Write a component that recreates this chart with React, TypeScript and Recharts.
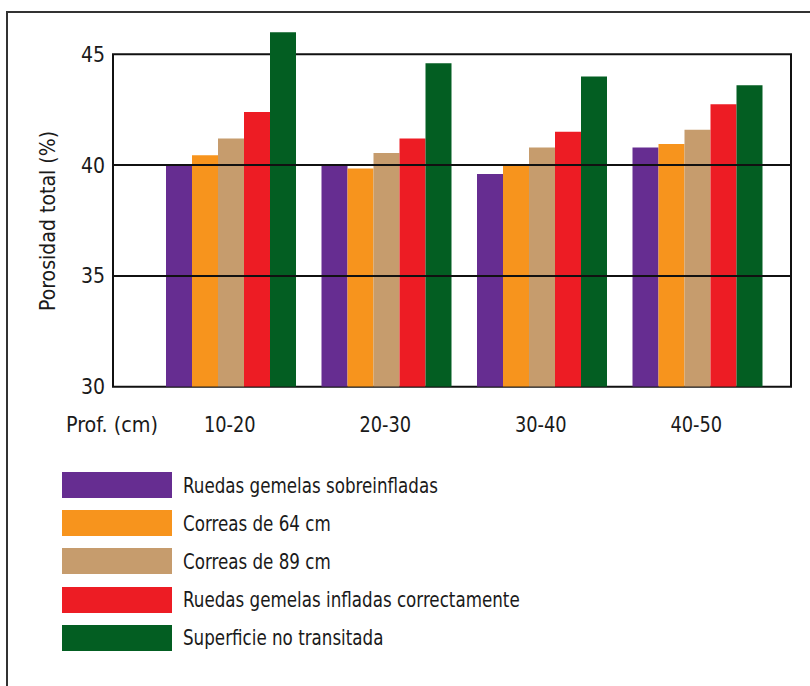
import { BarChart, Bar, XAxis, YAxis, ReferenceLine, ReferenceArea } from 'recharts';

const depths = ['10-20', '20-30', '30-40', '40-50'];
const sobreinfladas = [40.0, 40.0, 39.6, 40.8];
const correas64 = [40.45, 39.85, 40.0, 40.95];
const correas89 = [41.2, 40.55, 40.8, 41.6];
const correctamente = [42.4, 41.2, 41.5, 42.75];
const noTransitada = [46.0, 44.6, 44.0, 43.6];
const yTicks = [30, 35, 40, 45];

const series = [
  { key: 'a', name: 'Ruedas gemelas sobreinfladas', color: '#662D91', values: sobreinfladas },
  { key: 'b', name: 'Correas de 64 cm', color: '#F7941D', values: correas64 },
  { key: 'c', name: 'Correas de 89 cm', color: '#C69C6D', values: correas89 },
  { key: 'd', name: 'Ruedas gemelas infladas correctamente', color: '#ED1C24', values: correctamente },
  { key: 'e', name: 'Superficie no transitada', color: '#035E22', values: noTransitada },
];

const data = depths.map((d, i) => {
  const row: Record<string, string | number> = { depth: d };
  series.forEach(s => { row[s.key] = s.values[i]; });
  return row;
});

const FONT = '"DejaVu Sans Condensed", "DejaVu Sans", sans-serif';
const INK = '#1a1a1a';
const SQUEEZE = 0.845;

const YLabel = ({ viewBox }: any) => {
  const cx = 48;
  const cy = viewBox.y + viewBox.height * 0.56;
  return (
    <text x={cx} y={cy} transform={`rotate(-90 ${cx} ${cy})`} textAnchor="middle" dominantBaseline="central"
      fontFamily={FONT} fontSize={21} fill={INK} textLength={180} lengthAdjust="spacingAndGlyphs">
      Porosidad total (%)
    </text>
  );
};

const DepthTick = ({ x, y, payload }: any) => (
  <g transform={`translate(${x},${y})`}>
    <text transform={`scale(0.9,1)`} textAnchor="middle" dy="0.71em" fontFamily={FONT} fontSize={22} fill={INK}>
      {payload.value}
    </text>
  </g>
);

const Squeezed = ({ children, size, k = SQUEEZE }: { children: string; size: number; k?: number }) => (
  <span style={{ display: 'inline-block', fontSize: size, color: INK, transform: `scaleX(${k})`, transformOrigin: 'left center', whiteSpace: 'nowrap' }}>
    {children}
  </span>
);

export default function App() {
  return (
    <div style={{ position: 'absolute', left: 0, top: 0, width: 810, height: 686, overflow: 'hidden', background: '#fff', fontFamily: FONT }}>
      <div style={{ position: 'absolute', left: 6, top: 11, width: 830, height: 700, border: '2px solid #333' }} />
      <div style={{ position: 'absolute', left: 0, top: 0 }}>
        <BarChart width={810} height={440} data={data} margin={{ top: 10, right: 19, bottom: 0, left: 0 }}
          barCategoryGap={14} barGap={0}>
          <XAxis dataKey="depth" axisLine={false} tickLine={false} height={53.3} tickMargin={24}
            padding={{ left: 39, right: 17 }} tick={<DepthTick />} />
          <XAxis xAxisId="frame" dataKey="depth" hide />
          <YAxis domain={[30, 47]} ticks={yTicks} allowDataOverflow width={113} axisLine={false} tickLine={false}
            tick={{ fill: INK, fontSize: 21, fontFamily: FONT }} label={<YLabel />} />
          <ReferenceLine y={35} stroke="#111" strokeWidth={2} />
          <ReferenceLine y={40} stroke="#111" strokeWidth={2} />
          <ReferenceArea xAxisId="frame" y1={30} y2={45} fill="none" fillOpacity={0} stroke="#111" strokeWidth={2} />
          {series.map(s => (
            <Bar key={s.key} dataKey={s.key} name={s.name} fill={s.color} isAnimationActive={false} />
          ))}
        </BarChart>
      </div>
      <div style={{ position: 'absolute', left: 66, top: 412 }}>
        <Squeezed size={22} k={0.97}>Prof. (cm)</Squeezed>
      </div>
      <div style={{ position: 'absolute', left: 62, top: 472 }}>
        {series.map(s => (
          <div key={s.key} style={{ display: 'flex', alignItems: 'center', height: 26, marginBottom: 12.2 }}>
            <div style={{ width: 110, height: 26, background: s.color, flexShrink: 0 }} />
            <div style={{ marginLeft: 11 }}>
              <Squeezed size={22}>{s.name}</Squeezed>
            </div>
          </div>
        ))}
      </div>
    </div>
  );
}
